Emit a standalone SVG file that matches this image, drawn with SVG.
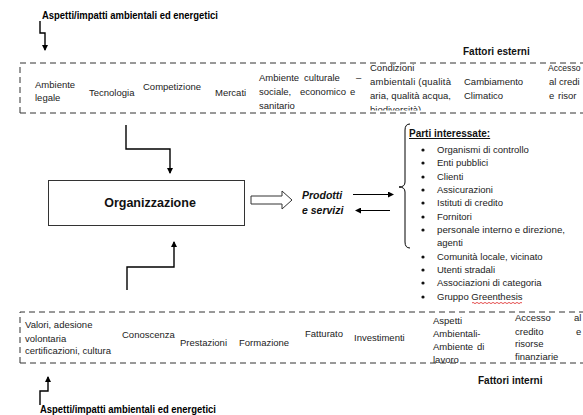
<svg xmlns="http://www.w3.org/2000/svg" width="583" height="415" viewBox="0 0 583 415">
<defs>
<style>
.t{font-family:"Liberation Sans",Arial,sans-serif;font-size:9.5px;fill:#222}
.b{font-family:"Liberation Sans",Arial,sans-serif;font-size:10px;font-weight:bold;fill:#111}
.lab{font-family:"Liberation Sans",Arial,sans-serif;font-size:10px;font-weight:bold;fill:#000}
.dash{fill:none;stroke:#333;stroke-width:1;stroke-dasharray:6 4}
.con{fill:none;stroke:#000;stroke-width:1.4}
.thin{fill:none;stroke:#000;stroke-width:1}
</style>
<marker id="ah" markerUnits="userSpaceOnUse" markerWidth="6" markerHeight="6" refX="5" refY="3" orient="auto">
<path d="M0,0 L6,3 L0,6 z" fill="#000"/>
</marker>
<clipPath id="topclip"><rect x="0" y="60" width="583" height="50.5"/></clipPath>
</defs>
<rect width="583" height="415" fill="#fff"/>

<g id="label-top">
<text class="lab" x="42" y="19" textLength="176" lengthAdjust="spacingAndGlyphs">Aspetti/impatti ambientali ed energetici</text>
</g>

<g id="fattori-esterni">
<text class="b" x="463" y="55">Fattori esterni</text>
<path class="dash" d="M20,113 V63 H583"/>
<path class="dash" d="M20,113 H583"/>
<text class="t" x="35" y="88">Ambiente</text>
<text class="t" x="35" y="101">legale</text>
<text class="t" x="89" y="96">Tecnologia</text>
<text class="t" x="143" y="90">Competizione</text>
<text class="t" x="215" y="96">Mercati</text>
<text class="t" x="259" y="81">Ambiente</text>
<text class="t" x="304" y="81">culturale</text>
<text class="t" x="356" y="81">–</text>
<text class="t" x="259" y="95">sociale,</text>
<text class="t" x="300" y="95">economico</text>
<text class="t" x="350" y="95">e</text>
<text class="t" x="259" y="109">sanitario</text>
<text class="t" x="370" y="71">Condizioni</text>
<text class="t" x="370" y="85" textLength="81" lengthAdjust="spacing">ambientali (qualità</text>
<text class="t" x="370" y="99" textLength="81" lengthAdjust="spacing">aria, qualità acqua,</text>
<g clip-path="url(#topclip)">
<text class="t" x="370" y="113">biodiversità)</text>
</g>
<text class="t" x="464" y="85">Cambiamento</text>
<text class="t" x="464" y="99">Climatico</text>
<text class="t" x="548" y="71" style="font-size:8.6px">Accesso</text>
<text class="t" x="549" y="85">al credi</text>
<text class="t" x="549" y="99">e</text>
<text class="t" x="558" y="99">risor</text>
</g>

<g id="organizzazione">
<rect x="48.5" y="180.5" width="196" height="45" fill="#fff" stroke="#333" stroke-width="1"/>
<text x="150" y="207" text-anchor="middle" font-family="'Liberation Sans',Arial,sans-serif" font-size="12.5" font-weight="bold" fill="#111">Organizzazione</text>
</g>

<g id="prodotti">
<text x="302" y="199" font-family="'Liberation Sans',Arial,sans-serif" font-size="10.5" font-weight="bold" font-style="italic" fill="#111">Prodotti</text>
<text x="302" y="214" font-family="'Liberation Sans',Arial,sans-serif" font-size="10.5" font-weight="bold" font-style="italic" fill="#111">e servizi</text>
</g>

<g id="parti-interessate">
<text class="b" x="409" y="137" text-decoration="underline">Parti interessate:</text>
<g fill="#111">
<circle cx="423" cy="150" r="1.6"/><circle cx="423" cy="163" r="1.6"/><circle cx="423" cy="177" r="1.6"/>
<circle cx="423" cy="190" r="1.6"/><circle cx="423" cy="203" r="1.6"/><circle cx="423" cy="217" r="1.6"/>
<circle cx="423" cy="230" r="1.6"/><circle cx="423" cy="257" r="1.6"/><circle cx="423" cy="270" r="1.6"/>
<circle cx="423" cy="283" r="1.6"/><circle cx="423" cy="297" r="1.6"/>
</g>
<text class="t" x="437" y="153">Organismi di controllo</text>
<text class="t" x="437" y="166">Enti pubblici</text>
<text class="t" x="437" y="180">Clienti</text>
<text class="t" x="437" y="193">Assicurazioni</text>
<text class="t" x="437" y="206">Istituti di credito</text>
<text class="t" x="437" y="220">Fornitori</text>
<text class="t" x="437" y="233" textLength="128" lengthAdjust="spacingAndGlyphs">personale interno e direzione,</text>
<text class="t" x="437" y="246">agenti</text>
<text class="t" x="437" y="260">Comunità locale, vicinato</text>
<text class="t" x="437" y="273">Utenti stradali</text>
<text class="t" x="437" y="286">Associazioni di categoria</text>
<text class="t" x="437" y="300">Gruppo Greenthesis</text>
<path d="M472,303 q1,-1.2 2,0 t2,0 t2,0 t2,0 t2,0 t2,0 t2,0 t2,0 t2,0 t2,0 t2,0 t2,0 t2,0 t2,0 t2,0 t2,0 t2,0 t2,0 t2,0 t2,0 t2,0 t2,0 t2,0 t2,0 t2,0" fill="none" stroke="#d22" stroke-width="0.8"/>
</g>

<g id="fattori-interni">
<path class="dash" d="M20,363 V312 H583"/>
<path class="dash" d="M20,363 H583"/>
<text class="t" x="25" y="328">Valori, adesione</text>
<text class="t" x="25" y="342">volontaria</text>
<text class="t" x="25" y="354">certificazioni, cultura</text>
<text class="t" x="122" y="338">Conoscenza</text>
<text class="t" x="180" y="346">Prestazioni</text>
<text class="t" x="239" y="346">Formazione</text>
<text class="t" x="305" y="337">Fatturato</text>
<text class="t" x="354" y="341">Investimenti</text>
<text class="t" x="433" y="324">Aspetti</text>
<text class="t" x="433" y="337">Ambientali-</text>
<text class="t" x="433" y="350">Ambiente</text>
<text class="t" x="477" y="350">di</text>
<text class="t" x="433" y="363">lavoro</text>
<text class="t" x="515" y="321">Accesso</text>
<text class="t" x="515" y="335">credito</text>
<text class="t" x="515" y="347">risorse</text>
<text class="t" x="515" y="360">finanziarie</text>
<text class="t" x="574" y="321">al</text>
<text class="t" x="576" y="335">e</text>
<text class="b" x="478" y="384">Fattori interni</text>
</g>

<g id="label-bottom">
<text class="lab" x="40" y="413" textLength="176" lengthAdjust="spacingAndGlyphs">Aspetti/impatti ambientali ed energetici</text>
</g>

<g id="connectors">
<path class="con" d="M40,21 V33 H45 V50" marker-end="url(#ah)"/>
<path class="con" d="M126,125 V149 H170 V173" marker-end="url(#ah)"/>
<path class="con" d="M127,290 V267 H174 V242" marker-end="url(#ah)"/>
<path class="con" d="M40,405 V391 H48 V377" marker-end="url(#ah)"/>
<path class="thin" d="M353,194.5 H393" marker-end="url(#ah)"/>
<path class="thin" d="M390,210.5 H356" marker-end="url(#ah)"/>
<polygon points="251,196 282,196 282,191 292,200 282,209 282,204 251,204" fill="#fff" stroke="#333" stroke-width="1"/>
<path class="thin" d="M410,124 Q405,124 405,130 V182 Q405,187 399,187 Q405,187 405,192 V242 Q405,248 410,248"/>
</g>
</svg>
